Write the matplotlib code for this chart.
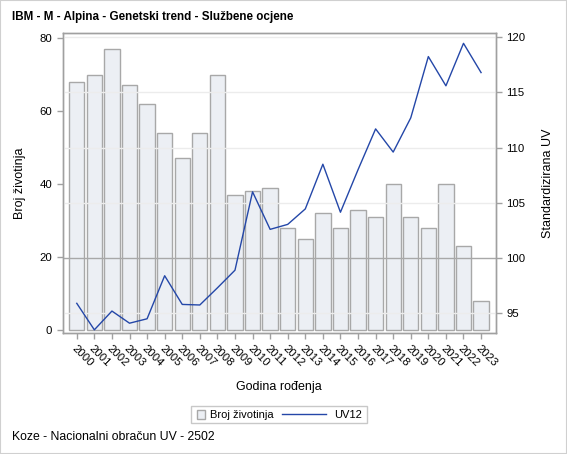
import matplotlib
matplotlib.use("Agg")
import matplotlib.pyplot as plt
from matplotlib.patches import Rectangle
from matplotlib.lines import Line2D

plt.rcParams['font.family'] = ['Liberation Sans', 'DejaVu Sans']

years = [str(y) for y in range(2000, 2024)]
counts = [68, 70, 77, 67, 62, 54, 47, 54, 70, 37, 38, 39, 28, 25, 32, 28, 33, 31, 40, 31, 28, 40, 23, 8]
uv12 = [95.9, 93.5, 95.2, 94.1, 94.5, 98.4, 95.8, 95.75, 97.3, 98.9, 106.0, 102.6, 103.05, 104.45,
        108.5, 104.15, 108.0, 111.7, 109.6, 112.7, 118.25, 115.6, 119.45, 116.8]
left_ticks = [0, 20, 40, 60, 80]
right_ticks = [95, 100, 105, 110, 115, 120]

W, H = 567, 454
BAR_FC = '#eceff4'
BAR_EC = '#a8a8a8'
LINE_C = '#2447a8'


def px(x, y):
    return (x / W, 1 - y / H)


fig = plt.figure(figsize=(W / 100, H / 100), dpi=100)
fig.patches.append(Rectangle((0, 0), 1, 1, transform=fig.transFigure, fill=False,
                             edgecolor='#d0d0d0', linewidth=1.5))

ax = fig.add_axes([0.1106, 0.2672, 0.7642, 0.6595])
ax2 = ax.twinx()
x = list(range(len(years)))

ax.set_zorder(1)
ax2.set_zorder(2)
ax.patch.set_facecolor('white')
ax2.patch.set_visible(False)

ax.bar(x, counts, width=0.87, color=BAR_FC, edgecolor=BAR_EC, linewidth=1.0, zorder=2)
ax.set_ylim(-0.75, 81.3)
ax.set_xlim(-0.8, 23.85)
ax.set_yticks(left_ticks)
ax.set_xticks(x)
ax.set_xticklabels(years, rotation=-45, ha='left', va='top', rotation_mode='anchor')

ax2.set_ylim(93.24, 120.36)
ax2.set_yticks(right_ticks)
for v in right_ticks:
    if v == 100:
        ax2.axhline(v, color='#a8a8a8', linewidth=1.0, zorder=1)
    else:
        ax2.axhline(v, color='#ececec', linewidth=1.0, zorder=1)
ax2.plot(x, uv12, color=LINE_C, linewidth=1.0, zorder=3)

for a in (ax, ax2):
    for s in a.spines.values():
        s.set_color('#a0a0a0')
        s.set_linewidth(1.0)
    a.tick_params(colors='#a0a0a0', labelcolor='black', labelsize=8.2, length=4, width=1)

ax.set_xlabel('Godina rođenja', fontsize=9, labelpad=9.5)
ax.set_ylabel('Broj životinja', fontsize=9, labelpad=10)
ax2.set_ylabel('Standardizirana UV', fontsize=9, labelpad=12)

fig.text(*px(12, 17), 'IBM - M - Alpina - Genetski trend - Službene ocjene',
         fontsize=8.4, fontweight='bold', ha='left', va='center')
fig.text(*px(12, 437), 'Koze - Nacionalni obračun UV - 2502', fontsize=8.8,
         ha='left', va='center')

# legend drawn manually to match the layout
lx0, ly0 = px(190.5, 422.5)
lx1, ly1 = px(366.5, 406)
fig.patches.append(Rectangle((lx0, ly0), lx1 - lx0, ly1 - ly0, transform=fig.transFigure,
                             facecolor='white', edgecolor='#c8c8c8', linewidth=1.0))
sx0, sy0 = px(197, 418.5)
sx1, sy1 = px(205, 410)
fig.patches.append(Rectangle((sx0, sy0), sx1 - sx0, sy1 - sy0, transform=fig.transFigure,
                             facecolor=BAR_FC, edgecolor=BAR_EC, linewidth=1.0))
fig.text(*px(210.5, 414.5), 'Broj životinja', fontsize=8, ha='left', va='center')
lnx0, lny = px(281.5, 414)
lnx1, _ = px(326, 414)
fig.add_artist(Line2D([lnx0, lnx1], [lny, lny], transform=fig.transFigure,
                      color=LINE_C, linewidth=1.0))
fig.text(*px(334.5, 414.5), 'UV12', fontsize=8, ha='left', va='center')

fig.savefig('out.png', dpi=100)
